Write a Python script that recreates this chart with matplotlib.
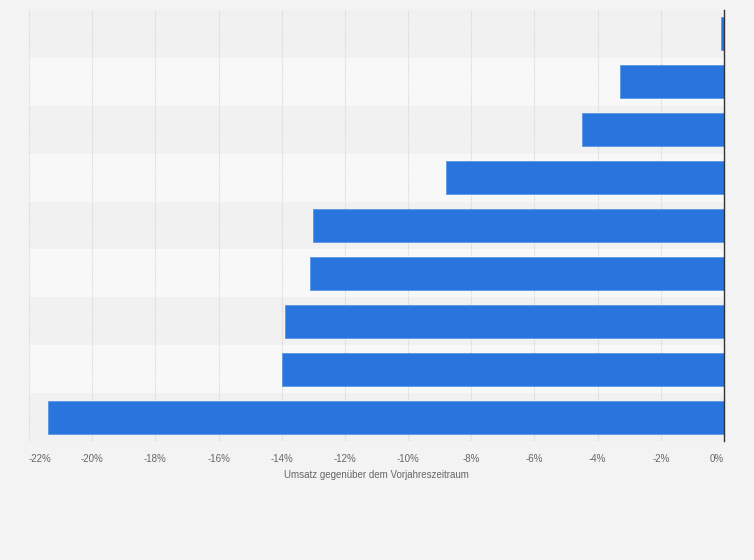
import matplotlib
matplotlib.use("Agg")
import matplotlib.pyplot as plt
import numpy as np

# values, top row first (category labels are hidden in the chart)
rows = ["Zeile 1", "Zeile 2", "Zeile 3", "Zeile 4", "Zeile 5",
        "Zeile 6", "Zeile 7", "Zeile 8", "Zeile 9"]
umsatz = [-0.1, -3.3, -4.5, -8.8, -13.0, -13.1, -13.9, -14.0, -21.4]
x_ticks = [-22, -20, -18, -16, -14, -12, -10, -8, -6, -4, -2, 0]
x_label = "Umsatz gegenüber dem Vorjahreszeitraum"

BG = "#f3f3f3"
BAR = "#2876dd"

fig = plt.figure(figsize=(7.54, 5.6), dpi=100, facecolor=BG)
ax = fig.add_axes([29 / 754, (560 - 441) / 560, (724 - 29) / 754, 431 / 560])
ax.set_facecolor(BG)

n = len(rows)
y = np.arange(n)

# alternating row bands
for i in y:
    col = "#f1f1f1" if i % 2 == 0 else "#f8f8f8"
    ax.axhspan(i - 0.5, i + 0.5, color=col, zorder=0, lw=0)

ax.barh(y, umsatz, height=0.69, color=BAR, edgecolor="#5a96e6", linewidth=0.6, zorder=3)

ax.set_xlim(-22, 0)
ax.set_ylim(n - 0.5, -0.5)
ax.set_xticks(x_ticks)
labels = ax.set_xticklabels([f"{t}%" for t in x_ticks], fontsize=7, color="#666666",
                            family="Liberation Sans")
# outer labels stay inside the plot width
labels[0].set_horizontalalignment("left")
labels[-1].set_horizontalalignment("right")
ax.set_yticks([])
ax.tick_params(axis="x", length=0, pad=9)

ax.grid(axis="x", color="#d2d2d2", linestyle=(0, (1, 1.2)), linewidth=0.8, zorder=1)
ax.set_axisbelow(True)
for s in ["top", "left", "bottom"]:
    ax.spines[s].set_visible(False)
ax.spines["right"].set_color("#333333")
ax.spines["right"].set_linewidth(1.0)
ax.spines["right"].set_zorder(5)

ax.set_xlabel(x_label, fontsize=7, color="#666666", labelpad=5, family="Liberation Sans")

fig.savefig("out.png", dpi=100, facecolor=BG)
